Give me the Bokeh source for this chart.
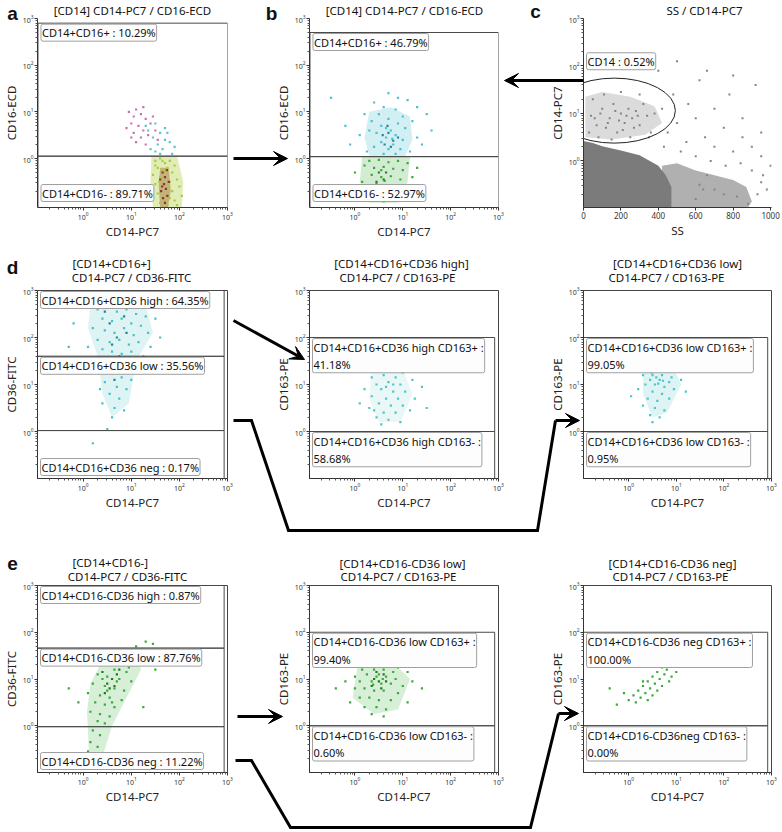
from bokeh.plotting import figure
from bokeh.models import FixedTicker, Arrow, VeeHead, Range1d
from bokeh.layouts import column, row
from bokeh.embed import file_html
from bokeh.resources import INLINE
from bokeh.core.properties import value

FONT = "Noto Sans"

# ------------------------------------------------------------------ data
# fluorescence values are stored as log10 of the value
# panel a  [CD14] CD14-PC7 / CD16-ECD
A_PINK = [(0.95,1.0),(1.05,0.9),(1.1,1.05),(1.2,0.95),(1.0,0.75),(1.15,0.7),(1.3,0.85),(1.25,0.6),
          (1.4,0.75),(1.05,0.55),(1.35,0.5),(1.5,0.6),(1.2,0.45),(0.9,0.65),(1.45,0.9),(1.1,0.35),
          (1.3,0.3),(1.55,0.4),(1.0,0.45),(1.25,1.1)]
A_CYAN = [(1.3,0.7),(1.5,0.75),(1.6,0.55),(1.45,0.45),(1.7,0.4),(1.55,0.3),(1.65,0.2),(1.8,0.35),
          (1.4,0.2),(1.75,0.55),(1.6,0.1),(1.9,0.25),(1.5,0.15),(1.85,0.1),(1.35,0.6),(1.7,0.65)]
A_YELLOW = [(1.5,-0.05),(1.6,0.0),(1.7,-0.1),(1.8,-0.05),(1.55,-0.2),(1.65,-0.25),(1.75,-0.2),(1.85,-0.3),
            (1.9,-0.15),(1.45,-0.35),(1.6,-0.4),(1.7,-0.45),(1.8,-0.5),(1.95,-0.45),(1.5,-0.55),(1.65,-0.6),
            (1.75,-0.65),(1.85,-0.7),(2.0,-0.6),(1.55,-0.75),(1.7,-0.8),(1.8,-0.85),(1.9,-0.9),(1.6,-0.95),
            (1.75,-1.0),(1.45,-0.85),(2.05,-0.8),(1.95,-1.0),(1.5,-0.15),(1.65,-0.05),(1.72,-0.3),(1.58,-0.5)]
A_BROWN = [(1.65,-0.3),(1.7,-0.4),(1.68,-0.55),(1.72,-0.65),(1.62,-0.7),(1.75,-0.8),(1.66,-0.85),
           (1.7,-0.95),(1.78,-0.5),(1.6,-0.45),(1.74,-0.25),(1.64,-0.6)]
A_LOW_CLOUD = [(1.42,0.05),(1.95,0.05),(2.08,-0.5),(2.05,-1.05),(1.45,-1.05),(1.4,-0.5)]
A_LOW_CORE = [(1.6,-0.2),(1.78,-0.2),(1.82,-0.7),(1.76,-1.05),(1.6,-1.05),(1.57,-0.6)]
A_GATES = [(-0.94, 3.0, 0.05, 2.9), (-0.94, 3.0, -1.05, 0.05)]
A_LABELS = ["CD14+CD16+ : 10.29%", "CD14+CD16- : 89.71%"]

# panel b  [CD14] CD14-PC7 / CD16-ECD
B_CYAN = [(0.7,1.4),(0.9,1.3),(0.4,1.2),(1.1,1.25),(0.6,1.1),(0.85,1.05),(1.3,1.1),(0.2,0.95),(0.5,0.95),
          (1.0,0.9),(1.5,0.95),(0.7,0.85),(0.35,0.8),(1.2,0.8),(0.9,0.75),(0.55,0.7),(1.05,0.65),(0.75,0.6),
          (0.45,0.55),(0.85,0.5),(0.65,0.45),(1.0,0.4),(0.55,0.35),(0.8,0.3),(0.7,0.2),(0.95,0.2),(0.4,0.25),
          (1.3,0.45),(0.1,0.5),(-0.2,0.7),(1.6,0.6),(1.4,0.3),(0.25,0.15),(0.6,0.1),(0.85,0.1),(1.15,0.15),
          (-0.1,0.3),(0.3,0.6),(0.65,0.65),(0.78,0.42),(-0.5,1.3)]
B_TEAL = [(0.7,0.55),(0.8,0.38),(0.62,0.3),(0.75,0.25),(0.9,0.45),(0.68,0.7),(0.58,0.5)]
B_GREEN = [(0.3,-0.05),(0.5,-0.03),(0.7,-0.08),(0.9,-0.05),(1.1,-0.1),(0.2,-0.15),(0.4,-0.2),(0.6,-0.18),
           (0.8,-0.22),(1.0,-0.25),(1.3,-0.2),(0.0,-0.3),(0.35,-0.35),(0.55,-0.4),(0.75,-0.38),(0.95,-0.45),
           (1.2,-0.4),(0.15,-0.5),(0.45,-0.55),(0.65,-0.6),(0.85,-0.58),(1.05,-0.65),(0.3,-0.7),(0.5,-0.75),
           (0.7,-0.8),(0.9,-0.78),(0.4,-0.9),(0.6,-0.92),(0.25,-0.85),(1.4,-0.7),(-0.05,-0.6),(0.55,-0.25),
           (0.62,-0.48)]
B_DKGREEN = [(0.5,-0.3),(0.6,-0.45),(0.45,-0.5),(0.55,-0.65),(0.65,-0.3)]
B_CYAN_CLOUD = [(0.3,1.0),(0.75,1.1),(1.15,0.9),(1.2,0.4),(1.05,0.05),(0.3,0.05),(0.2,0.45)]
B_GREEN_CLOUD = [(0.15,0.03),(1.15,0.03),(1.1,-0.5),(0.9,-0.95),(0.3,-0.95),(0.1,-0.5)]
B_GATES = [(-0.94, 3.0, 0.04, 2.7), (-0.94, 3.0, -1.05, 0.04)]
B_LABELS = ["CD14+CD16+ : 46.79%", "CD14+CD16- : 52.97%"]

# panel c  SS / CD14-PC7   (x = SS linear, y = log10 CD14-PC7)
C_DENSE_SS = [0, 0, 50, 100, 200, 300, 400, 440, 470, 470]
C_DENSE_Y = [-0.98, 0.42, 0.38, 0.31, 0.22, 0.12, -0.1, -0.3, -0.55, -0.98]
C_TAIL_SS = [420, 420, 500, 600, 700, 800, 870, 900, 880]
C_TAIL_Y = [-0.98, -0.1, -0.05, -0.2, -0.3, -0.4, -0.55, -0.85, -0.98]
C_ELLIPSE_CLOUD_SS = [10, 100, 250, 380, 420, 330, 150, 10]
C_ELLIPSE_CLOUD_Y = [1.35, 1.45, 1.35, 1.15, 0.8, 0.55, 0.45, 0.5]
C_POINTS = [(30,0.6),(60,0.9),(80,0.5),(100,1.1),(120,0.7),(140,0.9),(160,1.2),(180,0.6),(200,1.0),(220,0.8),
            (240,1.1),(260,0.9),(280,1.05),(300,0.75),(320,1.2),(340,0.95),(360,0.6),(380,1.0),(50,1.3),
            (110,1.4),(200,1.45),(300,1.4),(420,1.1),(150,0.45),(250,0.5),(350,0.5),(70,0.75),(190,0.85),
            (230,0.95),(270,0.7),(450,0.6),(500,0.8),(550,0.4),(600,0.9),(650,0.5),(700,0.3),(750,0.7),
            (800,0.2),(850,0.5),(900,0.3),(950,0.1),(480,1.4),(560,1.2),(620,1.7),(700,1.1),(780,1.4),
            (850,0.9),(920,1.6),(400,1.9),(300,2.0),(500,2.1),(660,1.9),(800,1.8),(950,0.6),(600,0.1),
            (520,0.2),(430,0.3),(680,0.0),(760,-0.1),(840,-0.05),(900,-0.2),(960,-0.3),(980,-0.6),
            (930,-0.7),(950,-0.45),(1000,-0.1),(620,-0.5),(640,-0.6),(700,-0.6),(750,-0.7),(820,-0.75),
            (880,-0.9),(600,-0.8),(660,-0.3),(40,0.95),(90,1.0),(130,0.8),(170,1.05),(210,0.65),(290,0.95)]
C_GATE_CENTER = (165, 1.06)
C_LABEL = "CD14 : 0.52%"

# panel d  [CD14+CD16+]
D1_CYAN = [(0.3,2.6),(0.5,2.65),(0.7,2.55),(0.9,2.6),(1.1,2.5),(1.3,2.45),(0.4,2.4),(0.6,2.35),(0.8,2.4),
           (1.0,2.3),(1.2,2.25),(1.5,2.4),(0.2,2.2),(0.45,2.15),(0.65,2.1),(0.85,2.2),(1.05,2.05),(1.35,2.1),
           (0.3,1.95),(0.55,1.9),(0.75,1.95),(0.95,1.85),(1.15,1.9),(1.6,2.0),(0.1,1.8),(0.4,1.75),(0.6,1.7),
           (0.8,1.65),(1.0,1.7),(1.25,1.6),(0.5,1.5),(0.7,1.45),(0.9,1.4),(0.3,1.35),(1.1,1.35),(0.6,1.25),
           (0.8,1.15),(0.45,1.05),(0.7,0.95),(0.9,0.9),(0.55,0.8),(0.75,0.7),(0.4,0.6),(0.65,0.5),(0.85,0.45),
           (0.6,0.3),(1.0,1.1),(0.35,0.9),(-0.2,2.3),(-0.3,1.8),(1.7,2.7),(0.2,-0.25),(0.5,0.05),(0.95,2.75),
           (0.25,1.55),(1.4,1.8)]
D1_TEAL = [(0.55,2.3),(0.7,2.0),(0.85,2.45),(0.6,1.85),(0.9,2.1),(0.45,2.55),(0.75,1.6),(0.65,1.1)]
D1_CLOUD = [(0.15,2.72),(1.3,2.68),(1.45,2.1),(1.1,1.5),(0.95,0.6),(0.6,0.3),(0.4,0.8),(0.3,1.6),(0.1,2.2)]
D1_GATES = [(-0.95, 2.93, 1.6, 3.0), (-0.95, 2.93, 0.02, 1.6), (-0.95, 2.93, -1.0, 0.02)]
D1_LABELS = ["CD14+CD16+CD36 high : 64.35%", "CD14+CD16+CD36 low : 35.56%", "CD14+CD16+CD36 neg : 0.17%"]

D2_CYAN = [(0.5,1.3),(0.75,1.35),(1.0,1.25),(0.35,1.15),(0.6,1.2),(0.85,1.15),(1.2,1.1),(0.45,1.0),(0.7,1.05),
           (0.95,1.0),(1.4,0.95),(0.2,0.9),(0.55,0.9),(0.8,0.85),(1.05,0.85),(0.35,0.75),(0.65,0.7),(0.9,0.7),
           (1.25,0.7),(0.5,0.6),(0.75,0.55),(1.0,0.55),(0.3,0.5),(0.6,0.4),(0.85,0.4),(1.15,0.45),(0.45,0.3),
           (0.7,0.25),(0.95,0.2),(0.55,0.15),(0.1,0.6),(1.5,0.5),(0.8,1.0),(0.65,0.95),(0.4,0.45),(0.7,-0.6),
           (0.4,-0.3),(1.0,-0.2)]
D2_CLOUD = [(0.35,1.28),(1.0,1.32),(1.2,0.8),(0.95,0.2),(0.5,0.2),(0.3,0.7)]
D2_GATES = [(-0.95, 2.92, 0.0, 2.0), (-0.95, 2.92, -1.0, 0.0)]
D2_LABELS = ["CD14+CD16+CD36 high CD163+ :\n41.18%", "CD14+CD16+CD36 high CD163- :\n58.68%"]

D3_CYAN = [(0.5,1.45),(0.7,1.4),(0.4,1.3),(0.6,1.3),(0.8,1.3),(1.0,1.35),(0.3,1.2),(0.5,1.2),(0.7,1.2),(0.9,1.15),
           (0.45,1.1),(0.65,1.1),(0.85,1.05),(1.1,1.1),(0.35,1.0),(0.55,1.0),(0.75,0.95),(0.95,0.9),(0.2,0.9),
           (0.5,0.85),(0.7,0.8),(1.2,0.85),(0.4,0.7),(0.6,0.65),(0.85,0.7),(0.3,0.55),(0.55,0.5),(0.75,0.45),
           (0.45,0.35),(0.65,0.3),(0.5,0.2),(1.5,1.3),(0.05,0.75),(0.58,1.15),(0.62,1.02),(0.72,1.08),(0.48,1.25)]
D3_CLOUD = [(0.3,1.42),(0.9,1.45),(1.1,1.0),(0.8,0.4),(0.5,0.3),(0.3,0.8)]
D3_GATES = [(-0.95, 2.92, 0.0, 2.0), (-0.95, 2.92, -1.0, 0.0)]
D3_LABELS = ["CD14+CD16+CD36 low CD163+ :\n99.05%", "CD14+CD16+CD36 low CD163- :\n0.95%"]

# panel e  [CD14+CD16-]
E1_GREEN = [(1.3,1.8),(1.45,1.75),(1.1,1.7),(0.9,1.6),(1.2,1.55),(0.7,1.5),(1.0,1.45),(0.55,1.4),(0.8,1.35),
            (1.1,1.3),(0.4,1.3),(0.65,1.2),(0.9,1.15),(0.3,1.1),(0.5,1.05),(0.75,1.0),(1.0,0.95),(0.2,0.9),
            (0.45,0.85),(0.65,0.8),(0.85,0.75),(0.1,0.7),(0.35,0.65),(0.55,0.6),(0.8,0.55),(0.25,0.5),
            (0.45,0.45),(0.65,0.4),(0.15,0.3),(0.35,0.25),(0.55,0.2),(0.3,0.1),(0.45,0.05),(0.2,-0.1),
            (0.35,-0.2),(0.15,-0.35),(0.3,-0.45),(0.1,-0.55),(0.25,-0.7),(0.4,-0.6),(-0.1,0.5),(-0.3,0.8),
            (1.25,0.4),(1.5,1.2),(0.6,1.6),(0.95,1.25),(0.5,0.75),(0.7,0.95),(0.4,1.0),(0.6,0.5)]
E1_DKGREEN = [(0.5,0.9),(0.6,1.0),(0.55,0.8),(0.7,1.1),(0.45,0.7),(0.65,0.85),(0.4,1.15),(0.75,1.2)]
E1_CLOUD = [(0.45,1.5),(1.1,1.65),(1.2,1.2),(0.9,0.6),(0.6,0.0),(0.42,-0.6),(0.12,-0.6),(0.08,0.3),(0.15,0.9)]
E1_GATES = [(-0.95, 2.93, 1.66, 3.0), (-0.95, 2.93, -0.02, 1.66), (-0.95, 2.93, -1.0, -0.02)]
E1_LABELS = ["CD14+CD16-CD36 high : 0.87%", "CD14+CD16-CD36 low : 87.76%", "CD14+CD16-CD36 neg : 11.22%"]

E2_GREEN = [(0.3,1.35),(0.5,1.3),(0.7,1.3),(0.9,1.25),(0.15,1.2),(0.4,1.2),(0.6,1.2),(0.8,1.15),(1.1,1.15),
            (0.0,1.05),(0.25,1.1),(0.45,1.05),(0.65,1.05),(0.85,1.0),(1.2,0.95),(-0.2,0.95),(0.1,0.95),
            (0.35,0.95),(0.55,0.9),(0.75,0.9),(1.0,0.85),(-0.4,0.8),(0.0,0.8),(0.2,0.8),(0.4,0.75),(0.6,0.75),
            (0.9,0.7),(1.4,0.8),(0.1,0.6),(0.3,0.6),(0.5,0.55),(0.75,0.55),(0.2,0.4),(0.45,0.4),(0.65,0.35),
            (0.35,0.25),(0.6,0.2),(-0.1,0.5),(1.1,0.5),(0.5,1.1),(0.38,0.88),(0.58,1.0)]
E2_DKGREEN = [(0.4,1.0),(0.5,0.95),(0.45,1.15),(0.6,1.1),(0.35,0.85),(0.55,0.8),(0.65,0.95)]
E2_CLOUD = [(0.05,1.25),(0.8,1.35),(1.15,1.0),(0.9,0.35),(0.4,0.25),(-0.05,0.6)]
E2_GATES = [(-0.95, 2.92, 0.0, 2.0), (-0.95, 2.92, -1.0, 0.0)]
E2_LABELS = ["CD14+CD16-CD36 low CD163+ :\n99.40%", "CD14+CD16-CD36 low CD163- :\n0.60%"]

E3_GREEN = [(0.7,1.25),(0.8,1.2),(0.6,1.15),(0.75,1.1),(0.9,1.05),(0.5,1.05),(0.65,1.0),(0.85,0.95),(0.4,0.95),
            (0.55,0.9),(0.7,0.85),(0.3,0.85),(0.45,0.8),(0.6,0.75),(0.2,0.75),(0.35,0.7),(0.5,0.65),(0.1,0.65),
            (0.25,0.6),(0.4,0.55),(0.0,0.55),(0.15,0.5),(-0.1,0.7),(-0.25,0.45),(-0.4,0.8),(1.0,1.15),(0.3,0.95)]
E3_GATES = [(-0.95, 2.92, 0.0, 2.0), (-0.95, 2.92, -1.0, 0.0)]
E3_LABELS = ["CD14+CD16-CD36 neg CD163+ :\n100.00%", "CD14+CD16-CD36neg CD163- :\n0.00%"]

# ------------------------------------------------------------------ layout / decoration (page pixels)
COLS = [(0, 270, 37, 43), (270, 260, 39, 32), (530, 252, 53, 11)]     # origin x, width, border l, border r
ROWS = [(0, 248, 18, 41), (248, 297, 42, 67), (545, 287, 40, 60)]     # origin y, height, border t, border b

ARROW_PATHS = [
    [(233, 158), (287, 158)],
    [(583, 80), (504, 80)],
    [(233, 320), (304, 359)],
    [(233, 420), (251, 420), (288, 530), (537, 530), (555, 420), (579, 420)],
    [(237, 716), (282, 716)],
    [(235, 760), (251, 760), (290, 827), (530, 827), (558, 713), (578, 713)],
]

TITLES = [
    (132, 10, "[CD14] CD14-PC7 / CD16-ECD", "center"),
    (404, 10, "[CD14] CD14-PC7 / CD16-ECD", "center"),
    (704, 10, "SS / CD14-PC7", "center"),
    (72, 263, "[CD14+CD16+]", "left"),
    (131, 277, "CD14-PC7 / CD36-FITC", "center"),
    (401, 263, "[CD14+CD16+CD36 high]", "center"),
    (397, 277, "CD14-PC7 / CD163-PE", "center"),
    (677, 263, "[CD14+CD16+CD36 low]", "center"),
    (666, 277, "CD14-PC7 / CD163-PE", "center"),
    (72, 562, "[CD14+CD16-]", "left"),
    (127, 576, "CD14-PC7 / CD36-FITC", "center"),
    (402, 563, "[CD14+CD16-CD36 low]", "center"),
    (398, 576, "CD14-PC7 / CD163-PE", "center"),
    (672, 563, "[CD14+CD16-CD36 neg]", "center"),
    (670, 576, "CD14-PC7 / CD163-PE", "center"),
]
LETTERS = [(12, 13, "a"), (271, 13, "b"), (535, 11, "c"), (12, 267, "d"), (12, 563, "e")]

LOG_MAJOR = [1, 10, 100, 1000]
LOG_MINOR = [m * 10.0 ** k for k in range(-1, 3) for m in range(2, 10)]


def pw(v):
    return [10 ** t for t in v]


def unzip(pts):
    return [p[0] for p in pts], [p[1] for p in pts]


def style_axis(ax):
    ax.axis_line_color = "#333333"
    ax.major_tick_line_color = "#333333"
    ax.minor_tick_line_color = "#555555"
    ax.major_tick_out = 3
    ax.major_tick_in = 0
    ax.minor_tick_out = 2
    ax.minor_tick_in = 0
    ax.major_label_text_font = FONT
    ax.major_label_text_font_size = "7px"
    ax.major_label_text_color = "#333333"
    ax.major_label_standoff = 1
    ax.axis_label_text_font = FONT
    ax.axis_label_text_font_size = "11.5px"
    ax.axis_label_text_font_style = "normal"
    ax.axis_label_text_color = "#222222"
    ax.axis_label_standoff = 1


def make_fig(ci, ri, ylabel, xlabel="CD14-PC7", x_log=True, xr=None, ylo=-1.0, outline=True):
    ox, w, bl, br = COLS[ci]
    oy, h, bt, bb = ROWS[ri]
    if xr is None:
        xr = (10 ** -0.95, 1000)
    p = figure(width=w, height=h, x_axis_type="log" if x_log else "linear", y_axis_type="log",
               x_range=Range1d(*xr), y_range=Range1d(10 ** ylo, 1000),
               output_backend="svg", toolbar_location=None,
               min_border_left=bl, min_border_right=br, min_border_top=bt, min_border_bottom=bb,
               background_fill_color="white", border_fill_color="white",
               outline_line_color="#444444" if outline else None)
    p.grid.visible = False
    p.xaxis.axis_label = xlabel
    p.yaxis.axis_label = ylabel
    style_axis(p.xaxis[0])
    style_axis(p.yaxis[0])
    p.yaxis.ticker = FixedTicker(ticks=LOG_MAJOR, minor_ticks=LOG_MINOR)
    if x_log:
        p.xaxis.ticker = FixedTicker(ticks=LOG_MAJOR, minor_ticks=LOG_MINOR)
    return p


def dots(p, pts, color, size=2.2, x_log=True):
    xs, ys = unzip(pts)
    p.scatter(x=pw(xs) if x_log else xs, y=pw(ys), marker="square", size=size,
              fill_color=color, line_color=None)


def cloud(p, pts, color, alpha):
    xs, ys = unzip(pts)
    p.patch(x=pw(xs), y=pw(ys), fill_color=color, fill_alpha=alpha, line_color=None)


def gates(p, gl):
    p.quad(left=[10 ** g[0] for g in gl], right=[10 ** g[1] for g in gl],
           bottom=[10 ** g[2] for g in gl], top=[10 ** g[3] for g in gl],
           fill_color=None, line_color="#4a4a4a", line_width=1)


def gate_label(p, x, y, txt, top=True, yoff=1):
    p.text(x=[x], y=[y], text=[txt], text_font=value(FONT), text_font_size="11px", text_color="#111111",
           text_align="left", text_baseline="top" if top else "bottom", x_offset=3, y_offset=yoff,
           text_line_height=1.15,
           background_fill_color="#fdfdfd", border_line_color="#a0a0a0", border_line_width=1,
           padding=1, border_radius=2)


# ------------------------------------------------------------------ panel a
pa = make_fig(0, 0, "CD16-ECD", ylo=-1.05, outline=False)
cloud(pa, A_LOW_CLOUD, "#c4da6e", 0.5)
cloud(pa, A_LOW_CORE, "#9a5a2e", 0.4)
dots(pa, A_YELLOW, "#a9cc3c")
dots(pa, A_BROWN, "#8b3b1e")
dots(pa, A_PINK, "#cf6fb4")
dots(pa, A_CYAN, "#5ac6c8")
gates(pa, A_GATES)
gate_label(pa, 10 ** A_GATES[0][0], 10 ** A_GATES[0][3], A_LABELS[0])
gate_label(pa, 10 ** A_GATES[1][0], 10 ** -1.05, A_LABELS[1], top=False, yoff=-6)

# ------------------------------------------------------------------ panel b
pb = make_fig(1, 0, "CD16-ECD", ylo=-1.05, outline=False)
cloud(pb, B_CYAN_CLOUD, "#8fd6e0", 0.4)
cloud(pb, B_GREEN_CLOUD, "#8fd08f", 0.4)
dots(pb, B_GREEN, "#38aa38")
dots(pb, B_DKGREEN, "#1f7d25")
dots(pb, B_CYAN, "#48c2d0")
dots(pb, B_TEAL, "#2b8598")
gates(pb, B_GATES)
gate_label(pb, 10 ** B_GATES[0][0], 10 ** B_GATES[0][3], B_LABELS[0])
gate_label(pb, 10 ** B_GATES[1][0], 10 ** -1.05, B_LABELS[1], top=False, yoff=-6)

# ------------------------------------------------------------------ panel c
pc = make_fig(2, 0, "CD14-PC7", xlabel="SS", x_log=False, xr=(0, 1005), ylo=-0.98, outline=False)
pc.xaxis.ticker = FixedTicker(ticks=[0, 200, 400, 600, 800, 1000], minor_ticks=[])
pc.xaxis.major_label_text_font_size = "8px"
pc.patch(x=C_ELLIPSE_CLOUD_SS, y=pw(C_ELLIPSE_CLOUD_Y), fill_color="#b8b8b8", fill_alpha=0.5, line_color=None)
pc.patch(x=C_TAIL_SS, y=pw(C_TAIL_Y), fill_color="#9c9c9c", fill_alpha=0.8, line_color=None)
pc.patch(x=C_DENSE_SS, y=pw(C_DENSE_Y), fill_color="#7b7b7b", line_color=None)
dots(pc, C_POINTS, "#858585", size=2.0, x_log=False)
pc.ellipse(x=[C_GATE_CENTER[0]], y=[10 ** C_GATE_CENTER[1]], width=122, height=65,
           width_units="screen", height_units="screen", fill_color=None, line_color="#222222", line_width=1)
pc.text(x=[0], y=[10 ** 2.1], text=[C_LABEL], text_font=value(FONT), text_font_size="11px",
        text_color="#111111", text_align="left", text_baseline="middle", x_offset=3,
        background_fill_color="#fdfdfd", border_line_color="#a0a0a0", border_line_width=1,
        padding=1, border_radius=2)

# ------------------------------------------------------------------ panel d
pd1 = make_fig(0, 1, "CD36-FITC")
cloud(pd1, D1_CLOUD, "#9fdde0", 0.35)
dots(pd1, D1_CYAN, "#45c2c6")
dots(pd1, D1_TEAL, "#2c7f90")
gates(pd1, D1_GATES)
gate_label(pd1, 10 ** -0.95, 10 ** D1_GATES[0][3], D1_LABELS[0])
gate_label(pd1, 10 ** -0.95, 10 ** D1_GATES[1][3], D1_LABELS[1])
gate_label(pd1, 10 ** -0.95, 10 ** -1.0, D1_LABELS[2], top=False, yoff=-3)

pd2 = make_fig(1, 1, "CD163-PE")
cloud(pd2, D2_CLOUD, "#a8e0e0", 0.25)
dots(pd2, D2_CYAN, "#4cc6c6")
gates(pd2, D2_GATES)
gate_label(pd2, 10 ** -0.95, 10 ** D2_GATES[0][3], D2_LABELS[0])
gate_label(pd2, 10 ** -0.95, 10 ** D2_GATES[1][3], D2_LABELS[1])

pd3 = make_fig(2, 1, "CD163-PE")
cloud(pd3, D3_CLOUD, "#9fdde0", 0.35)
dots(pd3, D3_CYAN, "#4cc6c6")
gates(pd3, D3_GATES)
gate_label(pd3, 10 ** -0.95, 10 ** D3_GATES[0][3], D3_LABELS[0])
gate_label(pd3, 10 ** -0.95, 10 ** D3_GATES[1][3], D3_LABELS[1])

# ------------------------------------------------------------------ panel e
pe1 = make_fig(0, 2, "CD36-FITC")
cloud(pe1, E1_CLOUD, "#9cd49c", 0.4)
dots(pe1, E1_GREEN, "#3aaa3a")
dots(pe1, E1_DKGREEN, "#1e7a22")
gates(pe1, E1_GATES)
gate_label(pe1, 10 ** -0.95, 10 ** E1_GATES[0][3], E1_LABELS[0])
gate_label(pe1, 10 ** -0.95, 10 ** E1_GATES[1][3], E1_LABELS[1])
gate_label(pe1, 10 ** -0.95, 10 ** -1.0, E1_LABELS[2], top=False, yoff=-3)

pe2 = make_fig(1, 2, "CD163-PE")
cloud(pe2, E2_CLOUD, "#9cd49c", 0.4)
dots(pe2, E2_GREEN, "#3aaa3a")
dots(pe2, E2_DKGREEN, "#1e7a22")
gates(pe2, E2_GATES)
gate_label(pe2, 10 ** -0.95, 10 ** E2_GATES[0][3], E2_LABELS[0])
gate_label(pe2, 10 ** -0.95, 10 ** E2_GATES[1][3], E2_LABELS[1])

pe3 = make_fig(2, 2, "CD163-PE")
dots(pe3, E3_GREEN, "#3aaa3a")
gates(pe3, E3_GATES)
gate_label(pe3, 10 ** -0.95, 10 ** E3_GATES[0][3], E3_LABELS[0])
gate_label(pe3, 10 ** -0.95, 10 ** E3_GATES[1][3], E3_LABELS[1])

# ------------------------------------------------------------------ overlay: titles, letters, arrows
ov = figure(width=782, height=832, x_range=Range1d(0, 782), y_range=Range1d(832, 0),
            output_backend="svg", toolbar_location=None, x_axis_location=None, y_axis_location=None,
            min_border=0, outline_line_color=None, background_fill_alpha=0, border_fill_alpha=0)
ov.grid.visible = False
ov.styles = {"position": "absolute", "left": "0px", "top": "0px", "z-index": "10",
             "pointer-events": "none"}

for path in ARROW_PATHS:
    xs = [q[0] for q in path]
    ys = [q[1] for q in path]
    if len(path) > 2:
        ov.line(xs[:-1], ys[:-1], line_color="black", line_width=3, line_join="miter")
    ov.add_layout(Arrow(x_start=xs[-2], y_start=ys[-2], x_end=xs[-1], y_end=ys[-1],
                        end=VeeHead(size=14, fill_color="black", line_color="black", line_width=1),
                        line_color="black", line_width=3))

for align in ("center", "left"):
    sel = [t for t in TITLES if t[3] == align]
    ov.text(x=[t[0] for t in sel], y=[t[1] for t in sel], text=[t[2] for t in sel],
            text_font=value(FONT), text_font_size="11.5px", text_color="#111111",
            text_align=align, text_baseline="middle")
ov.text(x=[t[0] for t in LETTERS], y=[t[1] for t in LETTERS], text=[t[2] for t in LETTERS],
        text_font=value("Liberation Sans"), text_font_size="19px", text_font_style="bold",
        text_color="#111111", text_align="center", text_baseline="middle")

layout = column(row(pa, pb, pc, spacing=0), row(pd1, pd2, pd3, spacing=0),
                row(pe1, pe2, pe3, spacing=0), ov, spacing=0)

open("out.html", "w").write(file_html(layout, INLINE))
